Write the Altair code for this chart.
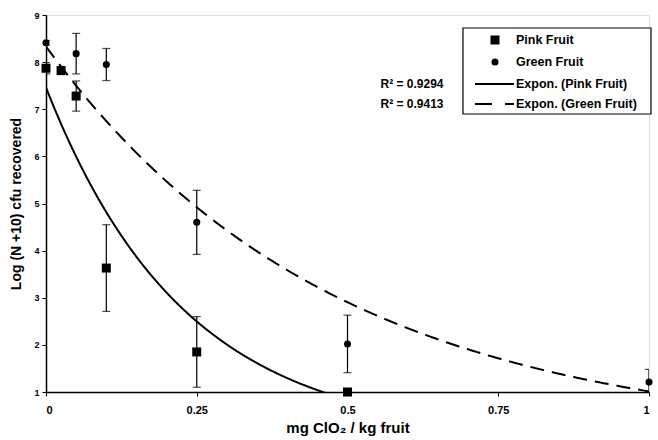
import altair as alt
import numpy as np
import pandas as pd

# ---- data ----
pink_dose = [0, 0.025, 0.05, 0.1, 0.25, 0.5]
pink_mean = [7.87, 7.82, 7.28, 3.63, 1.85, 1.0]
pink_err = [0.12, 0.05, 0.32, 0.92, 0.75, 0.0]

green_dose = [0, 0.025, 0.05, 0.1, 0.25, 0.5, 1.0]
green_mean = [8.41, 7.85, 8.18, 7.95, 4.60, 2.02, 1.21]
green_err = [0.05, 0.05, 0.43, 0.34, 0.68, 0.61, 0.27]

series_names = ["Pink Fruit", "Green Fruit", "Expon. (Pink Fruit)", "Expon. (Green Fruit)"]
r2_labels = ["R² = 0.9294", "R² = 0.9413"]

# legend / annotation placement, in data units of the chart
legend_box_x = [0.6915, 1.0033]
legend_box_y = [6.899, 8.724]
legend_row_y = [8.470, 8.003, 7.536, 7.111]
legend_sym_x = 0.7446
legend_line_x = [0.7114, 0.7760]
legend_label_x = 0.7794
r2_x = [0.607, 0.607]
r2_y = [7.536, 7.111]

FONT = "Liberation Sans"

pts = pd.DataFrame({
    "dose": pink_dose + green_dose,
    "mean": pink_mean + green_mean,
    "err": pink_err + green_err,
    "series": ["Pink Fruit"] * len(pink_dose) + ["Green Fruit"] * len(green_dose),
})
pts["lo"] = pts["mean"] - pts["err"]
pts["hi"] = pts["mean"] + pts["err"]

# exponential trendlines (least squares on log y, as a spreadsheet trendline)
bp, lap = np.polyfit(pink_dose, np.log(pink_mean), 1)
bg, lag = np.polyfit(green_dose, np.log(green_mean), 1)

x_scale = alt.Scale(domain=[0, 1], nice=False, zero=False)
y_scale = alt.Scale(domain=[1, 9], nice=False, zero=False)

x_axis = alt.Axis(values=[0, 0.25, 0.5, 0.75, 1], format="~g", title="mg ClO₂ / kg fruit",
                  labelFont=FONT, labelFontSize=11, labelFontWeight="bold", labelColor="black",
                  titleFont=FONT, titleFontSize=15, titleFontWeight="bold", titleColor="black",
                  titlePadding=5, labelPadding=8, tickSize=4, tickColor="black", domainColor="black",
                  domainWidth=1.5, grid=False)
y_axis = alt.Axis(values=list(range(1, 10)), title="Log (N +10) cfu recovered",
                  labelFont=FONT, labelFontSize=9, labelFontWeight="bold", labelColor="black",
                  titleFont=FONT, titleFontSize=14, titleFontWeight="bold", titleColor="black",
                  titlePadding=10, labelPadding=3, tickSize=4, tickColor="black", domainColor="black",
                  domainWidth=1.5, grid=False)

shape_scale = alt.Scale(domain=series_names[:2], range=["square", "circle"])
size_scale = alt.Scale(domain=series_names[:2], range=[81, 50])

base = alt.Chart(pts)

rules = base.mark_rule(color="black", strokeWidth=1.2, clip=True).encode(
    x=alt.X("dose:Q", scale=x_scale, axis=x_axis),
    y=alt.Y("lo:Q", scale=y_scale, axis=y_axis),
    y2="hi:Q",
)
caps_hi = base.mark_tick(color="black", orient="horizontal", size=8, thickness=1.2, clip=True).encode(
    x="dose:Q", y="hi:Q")
caps_lo = base.mark_tick(color="black", orient="horizontal", size=8, thickness=1.2, clip=True).encode(
    x="dose:Q", y="lo:Q")

points = base.mark_point(filled=True, opacity=1, color="black").encode(
    x="dose:Q",
    y="mean:Q",
    shape=alt.Shape("series:N", scale=shape_scale, legend=None),
    size=alt.Size("series:N", scale=size_scale, legend=None),
)

def trend(a_log, b, xmax, dash):
    return alt.Chart(alt.sequence(0, xmax + 0.0025, 0.0025, as_="x")).transform_calculate(
        y=f"exp({a_log} + ({b}) * datum.x)"
    ).mark_line(color="black", strokeWidth=2, strokeDash=dash, clip=True).encode(
        x=alt.X("x:Q", scale=x_scale), y=alt.Y("y:Q", scale=y_scale))

pink_line = trend(lap, bp, max(pink_dose), [1, 0])
green_line = trend(lag, bg, max(green_dose), [14, 8])

r2 = alt.Chart(pd.DataFrame({"x": r2_x, "y": r2_y, "t": r2_labels})).mark_text(
    font=FONT, fontSize=12, fontWeight="bold", color="black").encode(
    x=alt.X("x:Q", scale=x_scale), y=alt.Y("y:Q", scale=y_scale), text="t:N")

# ---- legend (box, marker symbols, line samples, labels) ----
box = alt.Chart(pd.DataFrame({"x": [legend_box_x[0]], "x2": [legend_box_x[1]],
                              "y": [legend_box_y[0]], "y2": [legend_box_y[1]]})).mark_rect(
    fill="white", stroke="black", strokeWidth=1.2).encode(
    x=alt.X("x:Q", scale=x_scale), x2="x2:Q", y=alt.Y("y:Q", scale=y_scale), y2="y2:Q")

leg_df = pd.DataFrame({"series": series_names, "y": legend_row_y})

leg_syms = alt.Chart(leg_df.iloc[:2]).transform_calculate(sx=str(legend_sym_x)).mark_point(
    filled=True, opacity=1, color="black").encode(
    x=alt.X("sx:Q", scale=x_scale),
    y=alt.Y("y:Q", scale=y_scale),
    shape=alt.Shape("series:N", scale=shape_scale, legend=None),
    size=alt.Size("series:N", scale=size_scale, legend=None),
)

def leg_line(row, dash):
    return alt.Chart(leg_df.iloc[[row]]).transform_calculate(
        lx0=str(legend_line_x[0]), lx1=str(legend_line_x[1])
    ).mark_rule(color="black", strokeWidth=2, strokeDash=dash).encode(
        x=alt.X("lx0:Q", scale=x_scale), x2="lx1:Q", y=alt.Y("y:Q", scale=y_scale))

leg_line_pink = leg_line(2, [1, 0])
leg_line_green = leg_line(3, [17, 13])

leg_labels = alt.Chart(leg_df).transform_calculate(tx=str(legend_label_x)).mark_text(
    font=FONT, fontSize=12.5, fontWeight="bold", color="black", align="left", baseline="middle").encode(
    x=alt.X("tx:Q", scale=x_scale), y=alt.Y("y:Q", scale=y_scale), text="series:N")

chart = alt.layer(pink_line, green_line, rules, caps_hi, caps_lo, points, r2,
                  box, leg_syms, leg_line_pink, leg_line_green, leg_labels).properties(
    width=603, height=377,
    autosize=alt.AutoSizeParams(type="none"),
    padding={"left": 46, "top": 15, "right": 9, "bottom": 48},
).configure_view(stroke=None).configure(background="white")

chart.save("out.html", embed_options={"renderer": "svg", "actions": False})
